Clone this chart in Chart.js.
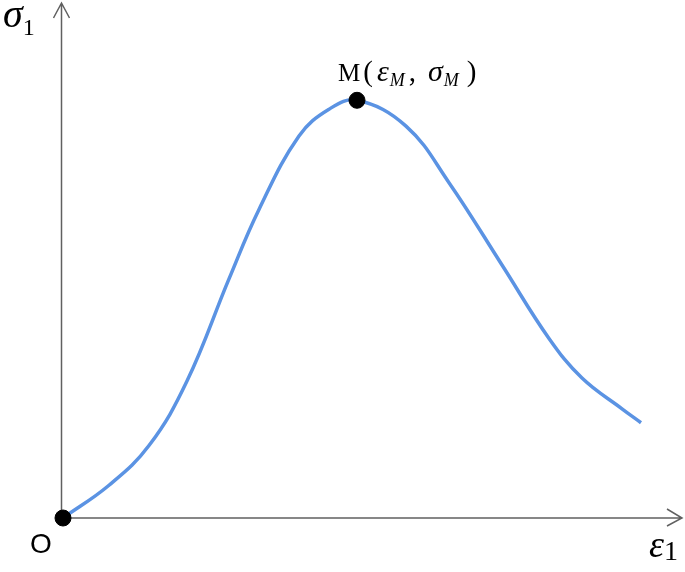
<!DOCTYPE html>
<html>
<head>
<meta charset="utf-8">
<script src="https://cdn.jsdelivr.net/npm/chart.js@4.4.1/dist/chart.umd.min.js"></script>
<style>
  html, body { margin: 0; padding: 0; background: #fff; }
  #wrap { width: 685px; height: 572px; }
</style>
</head>
<body>
<div id="wrap"><canvas id="curve-chart"></canvas></div>
<script>
// strain values (epsilon_1) and stress values (sigma_1)
var strain = [0, 46, 86, 124, 166, 196, 236, 266, 294, 343, 386, 439, 486, 519, 559, 578];
var stress = [0, 33, 73, 138, 241, 311, 385, 412, 421, 395, 338, 255, 181, 141, 110, 96];

// marked points: origin O and peak M
var markStrain = [0, 294];
var markStress = [0, 421];

var xMax = 606;
var yMax = 513;

var SERIF = '"Times New Roman", "Liberation Serif", "DejaVu Serif", serif';

// draw a row of text pieces one after the other: [text, font, dy, gap]
function drawRun(c, x, y, parts) {
    parts.forEach(function(p) {
        c.font = p[1];
        c.fillText(p[0], x, y + (p[2] || 0));
        x += c.measureText(p[0]).width + (p[3] || 0);
    });
}

// Axes with arrow heads and the symbol labels
var axesPlugin = {
    id: 'axes',
    beforeDatasetsDraw: function(chart) {
        var c = chart.ctx;
        var x = chart.scales.x, y = chart.scales.y;
        var ox = x.getPixelForValue(0) - 1.5;
        var oy = y.getPixelForValue(0);
        var top = 3, right = 682;
        c.save();
        c.strokeStyle = '#606060';
        c.lineWidth = 1.5;
        c.beginPath();
        c.moveTo(ox, oy);
        c.lineTo(ox, top);
        c.moveTo(ox - 8, top + 15);
        c.lineTo(ox, top);
        c.lineTo(ox + 8, top + 15);
        c.moveTo(ox, oy);
        c.lineTo(right, oy);
        c.moveTo(right - 15, oy - 9);
        c.lineTo(right, oy);
        c.lineTo(right - 15, oy + 8);
        c.stroke();
        c.restore();
    },
    afterDraw: function(chart) {
        var c = chart.ctx;
        var x = chart.scales.x, y = chart.scales.y;
        c.save();
        c.fillStyle = '#000';
        c.textBaseline = 'alphabetic';
        c.textAlign = 'left';

        // sigma_1
        drawRun(c, 3, 27, [
            ['\u03c3', 'italic 40px ' + SERIF, 0, 0],
            ['1', '24px ' + SERIF, 8]
        ]);

        // epsilon_1
        drawRun(c, 649, 557, [
            ['\u03b5', 'italic 38px ' + SERIF, 0, 0],
            ['1', '28px ' + SERIF, 3]
        ]);

        // O
        c.font = '28px "Liberation Sans", Arial, sans-serif';
        c.textAlign = 'center';
        c.fillText('O', 41, 553);
        c.textAlign = 'left';

        // M (eps_M, sigma_M)
        var px = x.getPixelForValue(markStrain[1]);
        var py = y.getPixelForValue(markStress[1]);
        drawRun(c, px - 19, py - 19, [
            ['M', '25px ' + SERIF, 0, 3],
            ['(', '29px ' + SERIF, 0, 4],
            ['\u03b5', 'italic 30px ' + SERIF, 0, 1],
            ['M', 'italic 18px ' + SERIF, 5, 4],
            [',', '29px ' + SERIF, 0, 12],
            ['\u03c3', 'italic 30px ' + SERIF, 0, 1],
            ['M', 'italic 18px ' + SERIF, 5, 8],
            [')', '29px ' + SERIF, 0, 0]
        ]);
        c.restore();
    }
};

var ctx = document.getElementById('curve-chart');

var chartData = {
    datasets: [{
        label: 'curve',
        data: strain.map(function(v, i) { return { x: v, y: stress[i] }; }),
        borderColor: '#5b93e3',
        borderWidth: 3.5,
        pointRadius: 0,
        tension: 0.4,
        fill: false,
        clip: false,
        order: 2
    }, {
        label: 'points',
        type: 'scatter',
        data: markStrain.map(function(v, i) { return { x: v, y: markStress[i] }; }),
        backgroundColor: '#000',
        borderColor: '#000',
        pointRadius: 8,
        clip: false,
        order: 1
    }]
};

var chartOptions = {
    responsive: true,
    maintainAspectRatio: false,
    animation: false,
    layout: { padding: { left: 63, right: 16, top: 5, bottom: 54 } },
    plugins: { legend: { display: false }, tooltip: { enabled: false } },
    scales: {
        x: { type: 'linear', min: 0, max: xMax, display: false },
        y: { type: 'linear', min: 0, max: yMax, display: false }
    }
};

var curveChart = new Chart(ctx, {
    type: 'line',
    data: chartData,
    options: chartOptions,
    plugins: [axesPlugin]
});
</script>
</body>
</html>
